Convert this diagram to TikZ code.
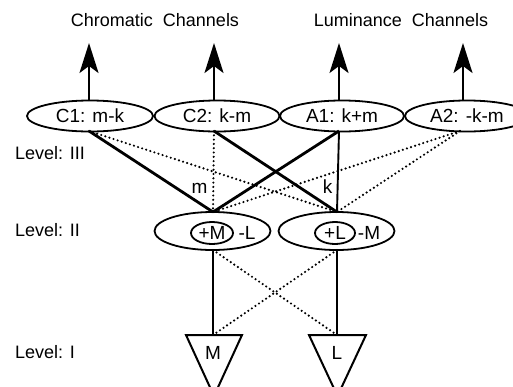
\documentclass[tikz,border=0pt]{standalone}
\usepackage{fontspec}
\setmainfont{Liberation Sans}
\usetikzlibrary{shapes.geometric,arrows.meta}
\begin{document}
\begin{tikzpicture}[x=1pt,y=-1pt,
  txt/.style={font=\fontsize{18}{21}\selectfont, inner sep=0pt},
  ell/.style={draw, ellipse, line width=1.8pt, inner sep=0pt, font=\fontsize{19}{22}\selectfont},
  arr/.style={line width=2.2pt, -{Stealth[length=30pt, width=19pt, inset=7pt]}},
  thickln/.style={line width=2.8pt},
  thinln/.style={line width=1.9pt},
  dots/.style={line width=2.4pt, line cap=round, dash pattern=on 0pt off 4.3pt}
]
\useasboundingbox (0,0) rectangle (513,386);

% top titles
\node[txt] (chrom) at (155,20) {Chromatic\ \ Channels};
\node[txt] (lum) at (401,20) {Luminance\ \ Channels};

% level III ellipses
\node[ell, minimum width=126, minimum height=31] (C1) at (90,116) {C1: m-k};
\node[ell, minimum width=125, minimum height=31] (C2) at (217,116) {C2: k-m};
\node[ell, minimum width=124, minimum height=31] (A1) at (342,116) {A1: k+m};
\node[ell, minimum width=124, minimum height=31] (A2) at (467,116) {A2: -k-m};

% arrow tips
\coordinate (tC1) at (89,43);
\coordinate (tC2) at (214,43);
\coordinate (tA1) at (339,43);
\coordinate (tA2) at (463,43);
\coordinate (bC1) at (89,101);
\coordinate (bC2) at (214,101);
\coordinate (bA1) at (339,101);
\coordinate (bA2) at (463,101);
\draw[arr] (bC1) -- (tC1);
\draw[arr] (bC2) -- (tC2);
\draw[arr] (bA1) -- (tA1);
\draw[arr] (bA2) -- (tA2);

% bottom points of level III
\coordinate (sC1) at (89,131);
\coordinate (sC2) at (214,131);
\coordinate (sA1) at (339,131);
\coordinate (sA2) at (460,131);

% level II
\node[ell, minimum width=116, minimum height=38] (IIa) at (212.5,231) {};
\node[ell, minimum width=116, minimum height=38] (IIb) at (336.5,231) {};
\node[ell, font=\fontsize{19}{22}\selectfont, minimum width=42, minimum height=22] (pM) at (212,233) {+M};
\node[txt, font=\fontsize{19}{22}\selectfont] (mL) at (247,233) {-L};
\node[ell, font=\fontsize{19}{22}\selectfont, minimum width=40, minimum height=22] (pL) at (335,233) {+L};
\node[txt, font=\fontsize{19}{22}\selectfont] (mM) at (369,233) {-M};

\coordinate (nIIa) at (213,212);
\coordinate (nIIb) at (337,212);
\coordinate (sIIa) at (213,250);
\coordinate (sIIb) at (337,250);

% connections III - II
\draw[thickln] (sC1) -- (nIIa);
\draw[dots] (sC1) -- (nIIb);
\draw[dots] (sC2) -- (nIIa);
\draw[thickln] (sC2) -- (nIIb);
\draw[thickln] (sA1) -- (nIIa);
\draw[thinln] (sA1) -- (nIIb);
\draw[dots] (sA2) -- (nIIa);
\draw[dots] (sA2) -- (nIIb);

\node[txt, font=\fontsize{19}{22}\selectfont] (lm) at (199.5,188) {m};
\node[txt, font=\fontsize{19}{22}\selectfont] (lk) at (327.5,187) {k};

% level I triangles
\coordinate (Ml) at (186,335);
\coordinate (Mr) at (242,335);
\coordinate (Ma) at (214,396);
\coordinate (Ll) at (309,335);
\coordinate (Lr) at (366,335);
\coordinate (La) at (337.5,396);
\draw[line width=2pt, line join=miter] (Ml) -- (Mr) -- (Ma) -- cycle;
\draw[line width=2pt, line join=miter] (Ll) -- (Lr) -- (La) -- cycle;
\node[txt, font=\fontsize{19}{22}\selectfont] (Mt) at (213,353) {M};
\node[txt, font=\fontsize{19}{22}\selectfont] (Lt) at (337,353) {L};
\coordinate (Mtop) at (213,335);
\coordinate (Ltop) at (337,335);

% connections II - I
\draw[thinln] (sIIa) -- (Mtop);
\draw[thinln] (sIIb) -- (Ltop);
\draw[dots] (sIIa) -- (Ltop);
\draw[dots] (sIIb) -- (Mtop);

% level labels
\node[txt, anchor=west] (lev3) at (15,153) {Level: III};
\node[txt, anchor=west] (lev2) at (15,230) {Level: II};
\node[txt, anchor=west] (lev1) at (15,352) {Level: I};
\end{tikzpicture}
\end{document}
